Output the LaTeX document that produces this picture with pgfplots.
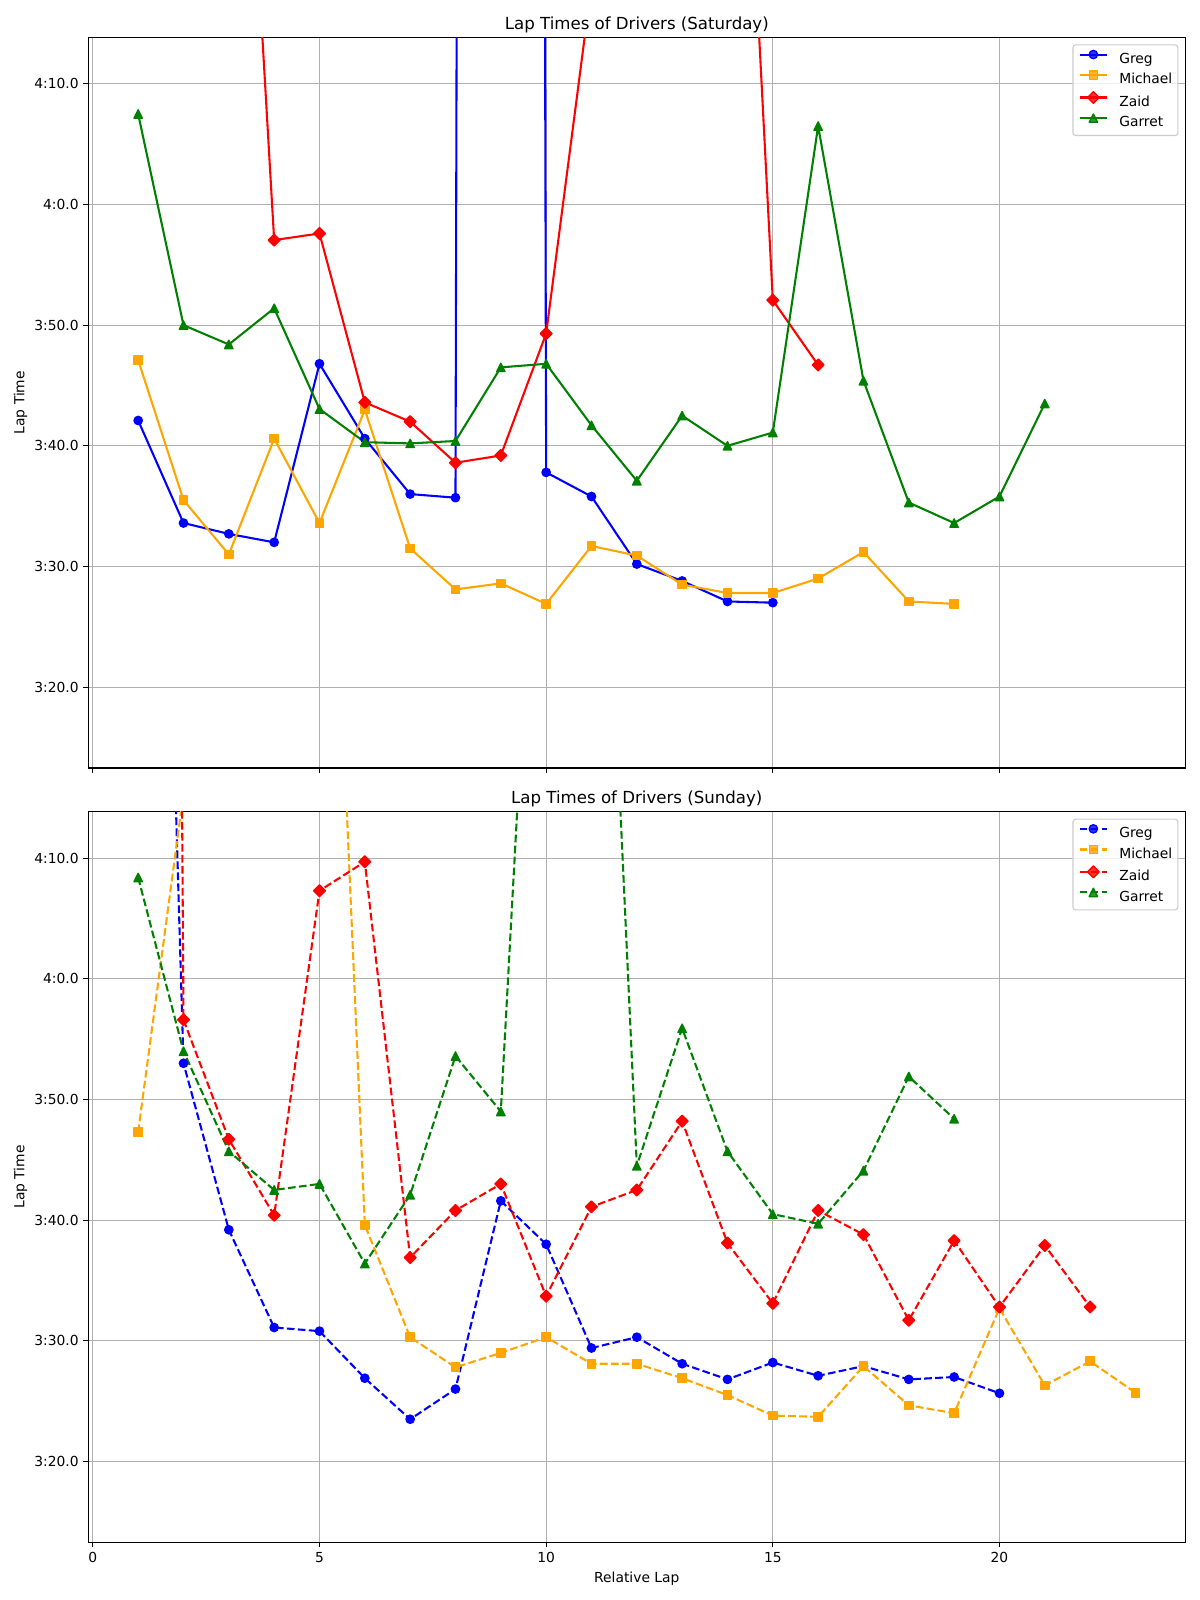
\documentclass[border=0pt]{standalone}
\usepackage{fontspec}
\setmainfont{DejaVu Sans}
\usepackage{pgfplots}
\pgfplotsset{compat=1.18}

\definecolor{mplblue}{RGB}{0,0,255}
\definecolor{mplorange}{RGB}{255,165,0}
\definecolor{mplred}{RGB}{255,0,0}
\definecolor{mplgreen}{RGB}{0,128,0}

\pgfdeclareplotmark{mpltri}{%
  \pgfpathmoveto{\pgfqpoint{0pt}{\pgfplotmarksize}}%
  \pgfpathlineto{\pgfqpoint{-\pgfplotmarksize}{-\pgfplotmarksize}}%
  \pgfpathlineto{\pgfqpoint{\pgfplotmarksize}{-\pgfplotmarksize}}%
  \pgfpathclose\pgfusepathqfillstroke}
\pgfdeclareplotmark{mpldia}{%
  \pgfpathmoveto{\pgfqpoint{0pt}{1.414\pgfplotmarksize}}%
  \pgfpathlineto{\pgfqpoint{1.414\pgfplotmarksize}{0pt}}%
  \pgfpathlineto{\pgfqpoint{0pt}{-1.414\pgfplotmarksize}}%
  \pgfpathlineto{\pgfqpoint{-1.414\pgfplotmarksize}{0pt}}%
  \pgfpathclose\pgfusepathqfillstroke}

\pgfplotsset{
  lapaxis/.style={
    scale only axis, width=792.8pt, height=528pt,
    xmin=-0.1, xmax=24.1, ymin=193.3, ymax=253.85,
    xtick={0,5,10,15,20}, ytick={200,210,220,230,240,250},
    yticklabels={3:20.0,3:30.0,3:40.0,3:50.0,4:0.0,4:10.0},
    grid=major, major grid style={color=black!31, line width=0.8pt},
    axis line style={line width=0.8pt},
    tick align=outside, xtick pos=bottom, ytick pos=left,
    major tick length=3.5pt, every tick/.style={black, line width=0.8pt},
    tick label style={font=\fontsize{10}{12}\selectfont},
    title style={font=\fontsize{12}{14}\selectfont, at={(axis description cs:0.5,1)}, anchor=base, yshift=0pt},
    ylabel={Lap Time},
    ylabel style={font=\fontsize{10}{12}\selectfont, at={(axis description cs:-0.0618,0.5)}, anchor=center},
    legend style={at={(1,1)}, anchor=north east, xshift=-5pt, yshift=-5pt,
      draw=black!20, line width=0.8pt, rounded corners=2pt, fill=white, fill opacity=0.8, text opacity=1,
      font=\fontsize{10}{12}\selectfont, inner xsep=4pt, inner ysep=4pt, row sep=3.3pt, column sep=8pt,
      nodes={inner sep=0pt, text height=7.6pt, text depth=2.4pt}},
    legend cell align=left,
    legend image code/.code={\draw[mark repeat=2, mark phase=2] plot coordinates {(0pt,3.6pt) (10pt,3.6pt) (20pt,3.6pt)};},
    every axis plot/.append style={line width=1.5pt, line join=round, mark size=3pt, mark options={solid, line width=1pt}},
  },
  greg/.style={mplblue, mark=*},
  michael/.style={mplorange, mark=square*},
  zaid/.style={mplred, mark=mpldia},
  garret/.style={mplgreen, mark=mpltri},
  dashedmpl/.style={dash pattern=on 5.55pt off 2.4pt},
}

\begin{document}
\begin{tikzpicture}
\useasboundingbox (0,0) rectangle (867.24pt,1156.32pt);

\begin{axis}[lapaxis, at={(63.82pt,601.29pt)}, anchor=south west,
  title={Lap Times of Drivers (Saturday)}, xticklabels={,,,,}]
\addplot[greg] coordinates {(1,222.1) (2,213.6) (3,212.7) (4,212.0) (5,226.8) (6,220.6) (7,216.0) (8,215.7) (9,1750) (10,217.8) (11,215.8) (12,210.2) (13,208.8) (14,207.1) (15,207.0)};
\addplot[michael] coordinates {(1,227.1) (2,215.5) (3,211.0) (4,220.6) (5,213.6) (6,223.0) (7,211.5) (8,208.1) (9,208.6) (10,206.9) (11,211.7) (12,210.9) (13,208.5) (14,207.8) (15,207.8) (16,209.0) (17,211.2) (18,207.1) (19,206.9)};
\addplot[zaid] coordinates {(3,301.7) (4,237.05) (5,237.6) (6,223.6) (7,222.0) (8,218.6) (9,219.2) (10,229.3) (11,258.2) (14,304.7) (15,232.07) (16,226.7)};
\addplot[garret] coordinates {(1,247.5) (2,230.0) (3,228.4) (4,231.4) (5,223.05) (6,220.3) (7,220.2) (8,220.4) (9,226.5) (10,226.8) (11,221.7) (12,217.1) (13,222.5) (14,220.0) (15,221.1) (16,246.5) (17,225.4) (18,215.3) (19,213.6) (20,215.8) (21,223.5)};
\legend{Greg,Michael,Zaid,Garret}
\end{axis}

\begin{axis}[lapaxis, at={(63.82pt,41.70pt)}, anchor=south west,
  title={Lap Times of Drivers (Sunday)}, xticklabels={0,5,10,15,20},
  xlabel={Relative Lap},
  xlabel style={font=\fontsize{10}{12}\selectfont, at={(axis description cs:0.5,0)}, anchor=base, yshift=-29.4pt}]
\addplot[greg, dashedmpl] coordinates {(1,360) (2,233.0) (3,219.2) (4,211.1) (5,210.8) (6,206.9) (7,203.5) (8,206.0) (9,221.6) (10,218.0) (11,209.4) (12,210.3) (13,208.1) (14,206.8) (15,208.2) (16,207.1) (17,207.9) (18,206.8) (19,207.0) (20,205.65)};
\addplot[michael, dashedmpl] coordinates {(1,227.3) (2,255.4) (5,306) (6,219.6) (7,210.3) (8,207.8) (9,209.0) (10,210.3) (11,208.1) (12,208.1) (13,206.9) (14,205.5) (15,203.8) (16,203.7) (17,207.9) (18,204.65) (19,204.0) (20,212.7) (21,206.3) (22,208.3) (23,205.7)};
\addplot[zaid, dashedmpl] coordinates {(1,800) (2,236.6) (3,226.7) (4,220.4) (5,247.3) (6,249.7) (7,216.9) (8,220.8) (9,223.0) (10,213.7) (11,221.1) (12,222.5) (13,228.2) (14,218.1) (15,213.1) (16,220.8) (17,218.8) (18,211.7) (19,218.3) (20,212.8) (21,217.9) (22,212.8)};
\addplot[garret, dashedmpl] coordinates {(1,248.4) (2,234.0) (3,225.7) (4,222.5) (5,223.0) (6,216.4) (7,222.1) (8,233.6) (9,229.0) (10,298) (11,306) (12,224.5) (13,235.9) (14,225.7) (15,220.5) (16,219.7) (17,224.1) (18,231.9) (19,228.4)};
\legend{Greg,Michael,Zaid,Garret}
\end{axis}
\end{tikzpicture}
\end{document}
